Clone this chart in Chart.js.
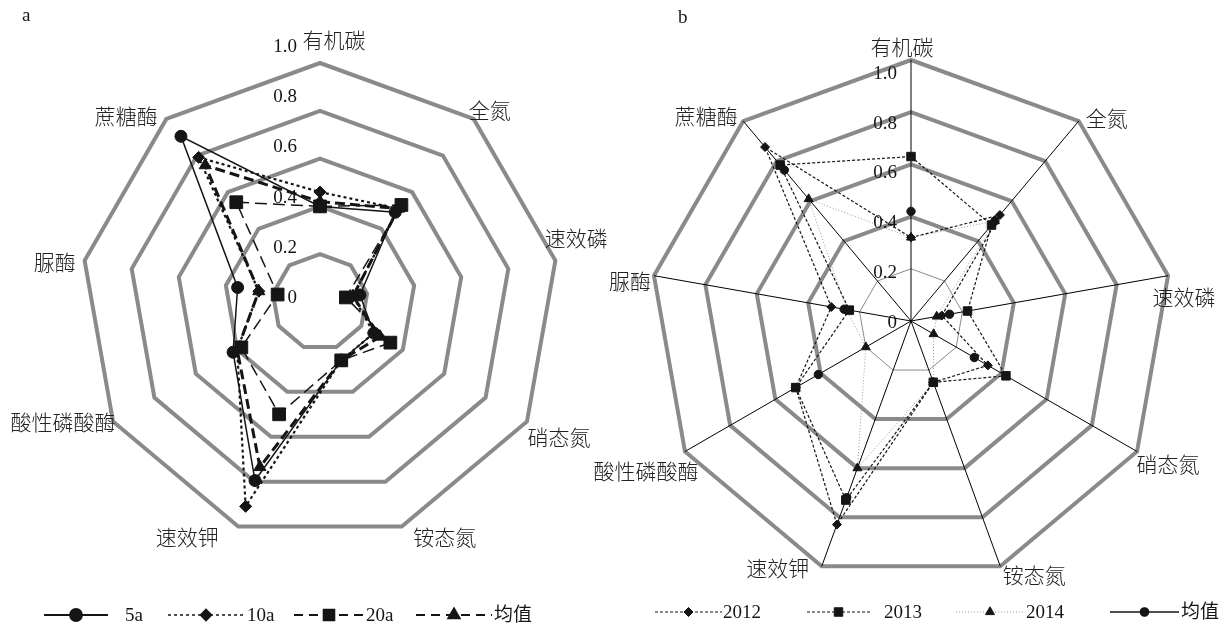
<!DOCTYPE html>
<html>
<head>
<meta charset="utf-8">
<script src="https://cdn.jsdelivr.net/npm/chart.js@4.4.0/dist/chart.umd.min.js"></script>
<style>
  html, body { margin: 0; padding: 0; background: #fff; }
  #wrap { position: relative; width: 1225px; height: 632px; overflow: hidden; }
  canvas { position: absolute; left: 0; top: 0; }
</style>
</head>
<body>
<div id="wrap">
  <canvas id="chartA" width="1225" height="632"></canvas>
  <canvas id="chartB" width="1225" height="632"></canvas>
</div>
<script>
// Axis categories (clockwise from the top)
const categories = ['有机碳', '全氮', '速效磷', '硝态氮', '铵态氮', '速效钾', '酸性磷酸酶', '脲酶', '蔗糖酶'];
const tickLabels = ['0', '0.2', '0.4', '0.6', '0.8', '1.0'];

// Panel a: stand age
const age5a   = [0.40, 0.49, 0.17, 0.26, 0.26, 0.795, 0.42, 0.35, 0.905];
const age10a  = [0.46, 0.51, 0.14, 0.26, 0.26, 0.91,  0.40, 0.26, 0.79];
const age20a  = [0.40, 0.53, 0.11, 0.34, 0.26, 0.50,  0.38, 0.18, 0.545];
const ageMean = [0.42, 0.51, 0.14, 0.29, 0.26, 0.735, 0.40, 0.26, 0.747];

// Panel b: sampling year
const year2012 = [0.32, 0.53, 0.12, 0.34, 0.25, 0.83, 0.51, 0.31, 0.87];
const year2013 = [0.63, 0.48, 0.22, 0.42, 0.25, 0.73, 0.51, 0.24, 0.78];
const year2014 = [0.32, 0.50, 0.10, 0.10, 0.25, 0.60, 0.20, 0.25, 0.61];
const yearMean = [0.42, 0.50, 0.15, 0.28, 0.25, 0.72, 0.41, 0.26, 0.755];

const SERIF = "'Liberation Serif', 'Noto Sans CJK SC', serif";
const CJK = "'Noto Sans CJK SC', sans-serif";
const INK = '#151515';
const RING = '#8a8a8a';

// Draws tick values just left of the vertical axis, category names round the outside,
// the panel letter and a line+marker legend.
function radarDecor(cfg) {
  return {
    id: 'radarDecor',
    afterDraw(chart) {
      const ctx = chart.ctx;
      const s = chart.scales.r;
      ctx.save();
      // tick values
      ctx.font = '19px ' + SERIF;
      ctx.fillStyle = INK;
      ctx.textAlign = 'right';
      ctx.textBaseline = 'middle';
      tickLabels.forEach(t => {
        const d = s.getDistanceFromCenterForValue(parseFloat(t));
        ctx.fillText(t, s.xCenter - cfg.tickDx, s.yCenter - (cfg.tickK * d + cfg.tickC));
      });
      // category names
      ctx.font = '300 21px ' + CJK;
      ctx.fillStyle = '#222';
      ctx.textAlign = 'center';
      categories.forEach((c, i) => {
        const p = s.getPointPosition(i, s.drawingArea);
        const o = cfg.labelNudge[i];
        ctx.fillText(c, p.x + o[0], p.y + o[1]);
      });
      // panel letter
      ctx.font = '19px ' + SERIF;
      ctx.fillStyle = INK;
      ctx.textAlign = 'left';
      ctx.fillText(cfg.letter[0], cfg.letter[1], cfg.letter[2]);
      // legend
      chart.data.datasets.forEach((ds, i) => {
        const L = cfg.legend[i];
        const y = cfg.legendY;
        ctx.save();
        ctx.strokeStyle = ds.borderColor;
        ctx.lineWidth = ds.legendWidth;
        ctx.setLineDash(ds.legendDash || ds.borderDash || []);
        ctx.beginPath();
        ctx.moveTo(L[0], y);
        ctx.lineTo(L[1], y);
        ctx.stroke();
        ctx.setLineDash([]);
        ctx.fillStyle = ds.pointBackgroundColor;
        ctx.strokeStyle = ds.pointBorderColor;
        Chart.helpers.drawPoint(ctx, {
          pointStyle: ds.pointStyle, rotation: 0,
          radius: ds.legendRadius, borderWidth: 1
        }, (L[0] + L[1]) / 2, y);
        ctx.restore();
        ctx.font = '19px ' + SERIF;
        ctx.fillStyle = INK;
        ctx.textAlign = 'left';
        ctx.textBaseline = 'middle';
        ctx.fillText(ds.label, L[2], y + 1);
      });
      ctx.restore();
    }
  };
}

function series(label, data, style) {
  return Object.assign({
    label, data,
    fill: false,
    tension: 0,
    borderColor: INK,
    pointBackgroundColor: INK,
    pointBorderColor: INK,
    pointBorderWidth: 1,
    borderJoinStyle: 'miter'
  }, style);
}

function radarOptions(gridWidth, angleLines) {
  return {
    responsive: false,
    animation: false,
    events: [],
    layout: { padding: 0 },
    plugins: { legend: { display: false }, tooltip: { enabled: false } },
    scales: {
      r: {
        min: 0, max: 1,
        ticks: { stepSize: 0.2, display: false },
        grid: { color: RING, lineWidth: gridWidth },
        angleLines: angleLines,
        pointLabels: { display: false }
      }
    }
  };
}

// ---- panel a ----
const optsA = radarOptions(4, { display: false });
optsA.layout.padding = { left: 81, right: 666, top: 63, bottom: 91 };
new Chart(document.getElementById('chartA'), {
  type: 'radar',
  data: {
    labels: categories,
    datasets: [
      series('5a', age5a, { borderWidth: 1.5, pointStyle: 'circle', pointRadius: 6, legendWidth: 1.8, legendRadius: 6 }),
      series('10a', age10a, { borderWidth: 2.2, borderDash: [3, 3], pointStyle: 'rectRot', pointRadius: 6, legendWidth: 1.6, legendRadius: 5.5 }),
      series('20a', age20a, { borderWidth: 1.5, borderDash: [12, 6], legendDash: [9, 6], pointStyle: 'rect', pointRadius: 9, legendWidth: 2, legendRadius: 7.5 }),
      series('均值', ageMean, { borderWidth: 3, borderDash: [10, 5], legendDash: [9, 6], pointStyle: 'triangle', pointRadius: 7, legendWidth: 2, legendRadius: 6.5 })
    ]
  },
  options: optsA,
  plugins: [radarDecor({
    tickDx: 23, tickK: 1.05, tickC: 4,
    labelNudge: [[14, -23], [16, -9], [21, -22], [32, 16], [43, 10], [-51, 10], [-50, 1], [-30, 2], [-40, -3]],
    letter: ['a', 22, 16],
    legendY: 615,
    legend: [[44, 108, 125], [168, 244, 247], [294, 364, 366], [416, 492, 494]]
  })]
});

// ---- panel b ----
const optsB = radarOptions(ctx => (ctx.index === 1 ? 1 : 4), { display: true, color: '#000', lineWidth: 1 });
optsB.layout.padding = { left: 650, right: 53, top: 60, bottom: 50 };
new Chart(document.getElementById('chartB'), {
  type: 'radar',
  data: {
    labels: categories,
    datasets: [
      series('2012', year2012, { borderWidth: 1.2, borderDash: [3, 2], pointStyle: 'rectRot', pointRadius: 4.5, legendWidth: 1, legendRadius: 4.5 }),
      series('2013', year2013, { borderWidth: 1.2, borderDash: [3, 2], pointStyle: 'rect', pointRadius: 6, legendWidth: 1, legendRadius: 6 }),
      series('2014', year2014, { borderWidth: 1, borderColor: '#9a9a9a', borderDash: [1, 2], pointStyle: 'triangle', pointRadius: 5.2, legendWidth: 1, legendRadius: 5.2 }),
      series('均值', yearMean, { borderWidth: 1.2, showLine: false, pointStyle: 'circle', pointRadius: 4.2, legendWidth: 1.3, legendRadius: 4.2 })
    ]
  },
  options: optsB,
  plugins: [radarDecor({
    tickDx: 14, tickK: 0.955, tickC: -2,
    labelNudge: [[-9, -13], [28, -3], [16, 21], [31, 13], [34, 9], [-44, 2], [-39, 20], [-24, 5], [-37, -5]],
    letter: ['b', 678, 18],
    legendY: 612,
    legend: [[655, 722, 723], [807, 870, 884], [956, 1024, 1026], [1110, 1179, 1181]]
  })]
});
</script>
</body>
</html>
